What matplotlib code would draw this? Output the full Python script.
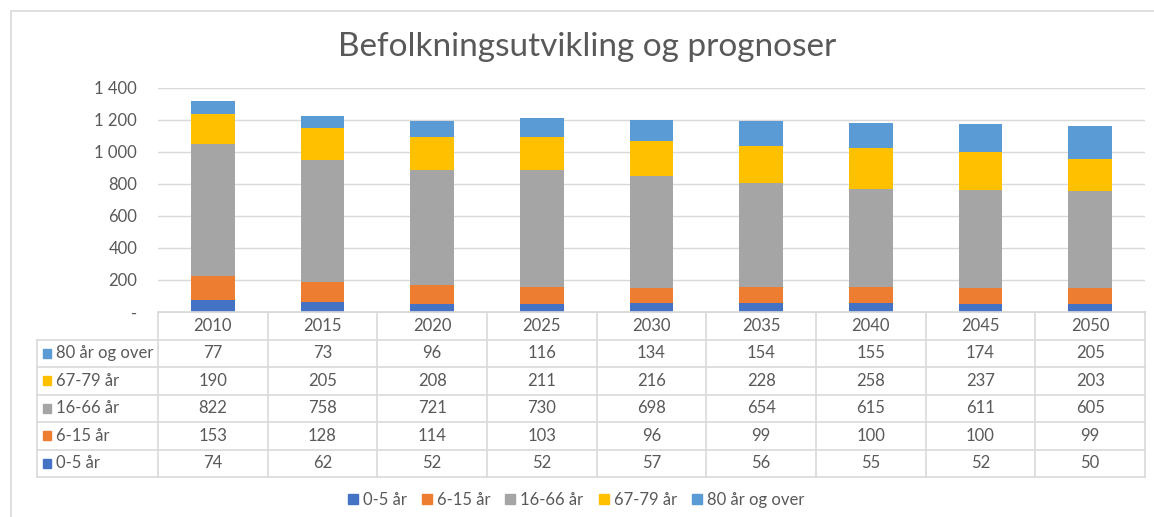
import matplotlib
matplotlib.use("Agg")
import matplotlib.pyplot as plt
from matplotlib.patches import Patch, Rectangle

years = ["2010", "2015", "2020", "2025", "2030", "2035", "2040", "2045", "2050"]
series_names = ["0-5 år", "6-15 år", "16-66 år", "67-79 år", "80 år og over"]
age_0_5 = [74, 62, 52, 52, 57, 56, 55, 52, 50]
age_6_15 = [153, 128, 114, 103, 96, 99, 100, 100, 99]
age_16_66 = [822, 758, 721, 730, 698, 654, 615, 611, 605]
age_67_79 = [190, 205, 208, 211, 216, 228, 258, 237, 203]
age_80_plus = [77, 73, 96, 116, 134, 154, 155, 174, 205]
colors = ["#4472C4", "#ED7D31", "#A5A5A5", "#FFC000", "#5B9BD5"]
yticks = [0, 200, 400, 600, 800, 1000, 1200, 1400]
ytick_labels = ["-", "200", "400", "600", "800", "1 000", "1 200", "1 400"]

series = [age_0_5, age_6_15, age_16_66, age_67_79, age_80_plus]

plt.rcParams['font.family'] = ['Lato', 'DejaVu Sans']
TXT = "#595959"
GRID = "#D9D9D9"
FS = 12

W, H = 1154, 517
fig = plt.figure(figsize=(W / 100, H / 100), dpi=100)

def px_axes(x0, y0, x1, y1):
    return fig.add_axes([x0 / W, 1 - y1 / H, (x1 - x0) / W, (y1 - y0) / H])

# outer chart border
fig.patches.append(Rectangle((11 / W, -0.01), (1160 - 11) / W, (H - 11) / H + 0.01,
                             transform=fig.transFigure, fill=False,
                             edgecolor=GRID, linewidth=1.2))

fig.text(587 / W, 1 - 47 / H, "Befolkningsutvikling og prognoser",
         ha="center", va="center", fontsize=24, color=TXT)

# bar axes
X0, X1 = 158, 1145
ax = px_axes(X0, 88, X1, 312)
xs = list(range(len(years)))
bottom = [0] * len(years)
for vals, c, name in zip(series, colors, series_names):
    ax.bar(xs, vals, bottom=bottom, width=0.4, color=c, label=name, zorder=3)
    bottom = [b + v for b, v in zip(bottom, vals)]
ax.set_xlim(-0.5, len(years) - 0.5)
ax.set_ylim(0, 1400)
ax.set_yticks(yticks)
ax.set_yticklabels(ytick_labels, fontsize=FS, color=TXT)
ax.tick_params(axis="y", length=0, pad=15)
ax.set_xticks([])
ax.grid(axis="y", color=GRID, linewidth=1, zorder=0)
for s in ["top", "right", "left"]:
    ax.spines[s].set_visible(False)
ax.spines["bottom"].set_color(GRID)

# data table
colw = (X1 - X0) / len(years)
LX = 37
tab = px_axes(LX, 312, X1, 477)
left = -0.5 - (X0 - LX) / colw
tab.set_xlim(left, len(years) - 0.5)
tab.set_ylim(6, 0)
tab.axis("off")
lk = dict(color=GRID, linewidth=1.2, clip_on=False)
tab.plot([-0.5, len(years) - 0.5], [0, 0], **lk)
for r in range(1, 7):
    tab.plot([left, len(years) - 0.5], [r, r], **lk)
tab.plot([left, left], [1, 6], **lk)
for i in range(len(years) + 1):
    tab.plot([i - 0.5, i - 0.5], [0, 6], **lk)
for i, y in enumerate(years):
    tab.text(i, 0.5, y, ha="center", va="center", fontsize=FS, color=TXT)
rows = list(zip(series_names, series, colors))[::-1]
for r, (name, vals, c) in enumerate(rows, start=1):
    for i, v in enumerate(vals):
        tab.text(i, r + 0.5, str(v), ha="center", va="center", fontsize=FS, color=TXT)
    tab.add_patch(Rectangle((left + 6 / colw, r + 0.5 - 0.17), 8 / colw, 0.34,
                            color=c, clip_on=False))
    tab.text(left + 19 / colw, r + 0.5, name, ha="left", va="center", fontsize=FS, color=TXT)

handles = [Patch(color=c, label=n) for c, n in zip(colors, series_names)]
fig.legend(handles=handles, loc="center", bbox_to_anchor=(576 / W, 1 - 500 / H),
           ncol=5, frameon=False, fontsize=FS, handlelength=0.6, handleheight=0.6,
           handletextpad=0.3, columnspacing=0.9, labelcolor=TXT)

fig.savefig("out.png", dpi=100)
